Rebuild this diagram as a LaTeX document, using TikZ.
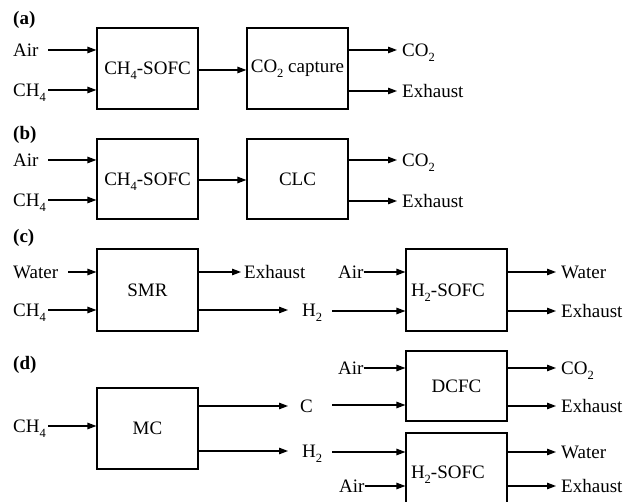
\documentclass[tikz,border=0pt]{standalone}
\usepackage{fontspec}
\setmainfont{Liberation Serif}
\usetikzlibrary{arrows.meta}
\newcommand\dfs{\fontsize{19}{22}\selectfont}
\newcommand\dsub[1]{\smash{\raisebox{-0.27em}{\fontsize{12.5}{13}\selectfont #1}}}
\begin{document}
\begin{tikzpicture}[x=1pt,y=-1pt,
  box/.style={draw, line width=1.2pt, minimum width=101pt, inner sep=0pt, font=\dfs},
  lbox/.style={box, text width=91pt, align=left, inner xsep=5pt},
  arr/.style={-{Triangle[length=9pt,width=6.5pt]}, line width=1.2pt},
  lbl/.style={anchor=base west, inner sep=0pt, font=\dfs},
  tag/.style={anchor=base west, inner sep=0pt, font=\dfs\bfseries}]
\useasboundingbox (0,0) rectangle (626,502);
% ---------- (a)
\node[tag] (ta) at (13,25) {(a)};
\node[box, minimum height=81pt] (a1) at (147.5,68.5) {CH\dsub{4}-SOFC};
\node[box, minimum height=81pt] (a2) at (297.5,68.5) {CO\dsub{2} capture};
\node[lbl] (aAir) at (13,56.3) {Air};
\node[lbl] (aCH) at (13,96.3) {CH\dsub{4}};
\node[lbl] (aCO) at (402,56.3) {CO\dsub{2}};
\node[lbl] (aEx) at (402,97.3) {Exhaust};
\draw[arr] (48,50) -- (a1.west |- 0,50);
\draw[arr] (48,90) -- (a1.west |- 0,90);
\draw[arr] (a1.east |- 0,70) -- (a2.west |- 0,70);
\draw[arr] (a2.east |- 0,50) -- (397,50);
\draw[arr] (a2.east |- 0,91) -- (397,91);
% ---------- (b)
\node[tag] (tb) at (13,140) {(b)};
\node[box, minimum height=80pt] (b1) at (147.5,179) {CH\dsub{4}-SOFC};
\node[box, minimum height=80pt] (b2) at (297.5,179) {CLC};
\node[lbl] (bAir) at (13,166.3) {Air};
\node[lbl] (bCH) at (13,206.3) {CH\dsub{4}};
\node[lbl] (bCO) at (402,166.3) {CO\dsub{2}};
\node[lbl] (bEx) at (402,207.3) {Exhaust};
\draw[arr] (48,160) -- (b1.west |- 0,160);
\draw[arr] (48,200) -- (b1.west |- 0,200);
\draw[arr] (b1.east |- 0,180) -- (b2.west |- 0,180);
\draw[arr] (b2.east |- 0,160) -- (397,160);
\draw[arr] (b2.east |- 0,201) -- (397,201);
% ---------- (c)
\node[tag] (tc) at (13,242.5) {(c)};
\node[box, minimum height=82pt] (c1) at (147.5,290) {SMR};
\node[lbox, minimum height=82pt] (c2) at (456.5,290) {H\dsub{2}-SOFC};
\node[lbl] (cWa) at (13,278.3) {Water};
\node[lbl] (cCH) at (13,316.3) {CH\dsub{4}};
\node[lbl] (cEx1) at (244,278.3) {Exhaust};
\node[lbl] (cH) at (302,316.3) {H\dsub{2}};
\node[lbl] (cAir) at (338,278.3) {Air};
\node[lbl] (cWa2) at (561,278.3) {Water};
\node[lbl] (cEx2) at (561,317.3) {Exhaust};
\draw[arr] (68,272) -- (c1.west |- 0,272);
\draw[arr] (48,310) -- (c1.west |- 0,310);
\draw[arr] (c1.east |- 0,272) -- (241,272);
\draw[arr] (c1.east |- 0,310) -- (288,310);
\draw[arr] (cAir.base east |- 0,272) -- (c2.west |- 0,272);
\draw[arr] (332,311) -- (c2.west |- 0,311);
\draw[arr] (c2.east |- 0,272) -- (556,272);
\draw[arr] (c2.east |- 0,311) -- (556,311);
% ---------- (d)
\node[tag] (td) at (13,369.6) {(d)};
\node[box, minimum height=81pt] (d1) at (147.5,428.5) {MC};
\node[box, minimum height=70pt] (d2) at (456.5,386) {DCFC};
\begin{scope}
\clip (0,0) rectangle (626,502);
\node[lbox, minimum height=79pt] (d3) at (456.5,472.5) {H\dsub{2}-SOFC};
\end{scope}
\node[lbl] (dCH) at (13,432.3) {CH\dsub{4}};
\node[lbl] (dC) at (300,412.3) {C};
\node[lbl] (dH) at (302,457.3) {H\dsub{2}};
\node[lbl] (dAir1) at (338,374.3) {Air};
\node[lbl] (dAir2) at (339,492.3) {Air};
\node[lbl] (dCO) at (561,374.3) {CO\dsub{2}};
\node[lbl] (dEx1) at (561,412.3) {Exhaust};
\node[lbl] (dWa) at (561,458.3) {Water};
\node[lbl] (dEx2) at (561,492.3) {Exhaust};
\draw[arr] (48,426) -- (d1.west |- 0,426);
\draw[arr] (d1.east |- 0,406) -- (288,406);
\draw[arr] (d1.east |- 0,451) -- (288,451);
\draw[arr] (dAir1.base east |- 0,368) -- (d2.west |- 0,368);
\draw[arr] (332,405) -- (d2.west |- 0,405);
\draw[arr] (332,452) -- (d3.west |- 0,452);
\draw[arr] (dAir2.base east |- 0,486) -- (d3.west |- 0,486);
\draw[arr] (d2.east |- 0,368) -- (556,368);
\draw[arr] (d2.east |- 0,406) -- (556,406);
\draw[arr] (d3.east |- 0,452) -- (556,452);
\draw[arr] (d3.east |- 0,486) -- (556,486);
\end{tikzpicture}
\end{document}
